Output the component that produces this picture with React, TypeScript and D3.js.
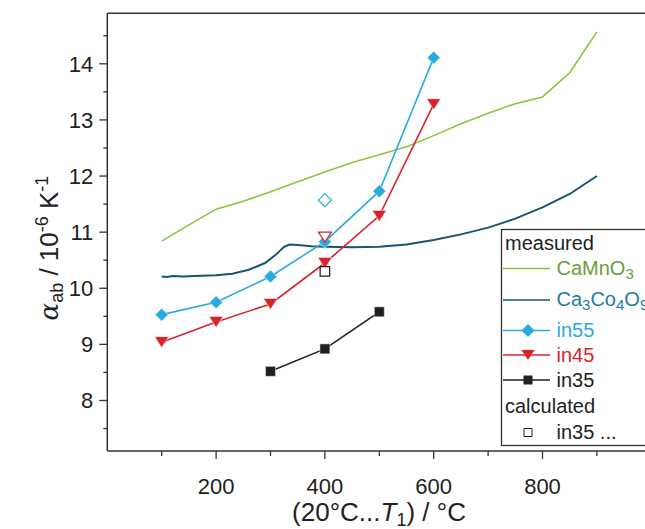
import React from "react";
import * as d3 from "d3";

const W = 645;
const H = 529;

// CaMnO3 (measured, line only)
const caMnX = [100, 150, 200, 250, 300, 350, 400, 450, 500, 550, 600, 650, 700, 750, 800, 850, 900];
const caMnY = [10.84, 11.13, 11.41, 11.55, 11.72, 11.9, 12.07, 12.24, 12.38, 12.52, 12.72, 12.93, 13.12, 13.29, 13.41, 13.84, 14.57];

// Ca3Co4O9 (measured, line only)
const caCoX = [100, 110, 120, 140, 160, 200, 230, 260, 290, 310, 325, 335, 350, 375, 400, 450, 500, 550, 600, 650, 700, 750, 800, 850, 900];
const caCoY = [10.21, 10.2, 10.22, 10.21, 10.22, 10.23, 10.26, 10.33, 10.45, 10.6, 10.74, 10.78, 10.77, 10.75, 10.74, 10.73, 10.74, 10.78, 10.86, 10.96, 11.08, 11.24, 11.44, 11.68, 12.0];

// in55, in45, in35 (measured, line + symbol)
const in55X = [100, 200, 300, 400, 500, 600];
const in55Y = [9.53, 9.75, 10.21, 10.83, 11.73, 14.11];
const in45X = [100, 200, 300, 400, 500, 600];
const in45Y = [9.04, 9.4, 9.72, 10.45, 11.29, 13.28];
const in35X = [300, 400, 500];
const in35Y = [8.52, 8.92, 9.58];

// calculated (open symbols at 400 °C)
const calcX = [400];
const calcIn55Y = [11.57];
const calcIn45Y = [10.91];
const calcIn35Y = [10.3];

const xMajorTicks = [200, 400, 600, 800];
const xMinorTicks = [100, 300, 500, 700, 900];
const yMajorTicks = [8, 9, 10, 11, 12, 13, 14];
const yMinorTicks = [7.5, 8.5, 9.5, 10.5, 11.5, 12.5, 13.5, 14.5];

const C_GREEN = "#8cc43f";
const C_TEAL = "#17566f";
const C_BLUE = "#29abe2";
const C_RED = "#d7242c";
const C_BLACK = "#231f20";
const C_AXIS = "#333333";
const FONT = "'Liberation Sans', Arial, sans-serif";

const x = d3.scaleLinear().domain([0, 1000]).range([107.3, 651.3]);
const y = d3.scaleLinear().domain([7.1, 14.9]).range([451, 13.3]);

const line = d3
  .line<[number, number]>()
  .x((d) => x(d[0]))
  .y((d) => y(d[1]));

const zip = (xs: number[], ys: number[]): [number, number][] => xs.map((v, i) => [v, ys[i]]);

const diamond = (cx: number, cy: number, r: number) =>
  `M${cx},${cy - r}L${cx + r},${cy}L${cx},${cy + r}L${cx - r},${cy}Z`;
const triDown = (cx: number, cy: number, w: number, h: number) =>
  `M${cx - w / 2},${cy - h / 2}L${cx + w / 2},${cy - h / 2}L${cx},${cy + h / 2}Z`;
const square = (cx: number, cy: number, s: number) =>
  `M${cx - s / 2},${cy - s / 2}h${s}v${s}h${-s}Z`;

export default function App() {
  const legendRows = [
    { label: "CaMnO3", color: C_GREEN, text: "#6a9e3a", ly: 268.5, by: 274.5, marker: null },
    { label: "Ca3Co4O9", color: C_TEAL, text: "#1f7ba0", ly: 300, by: 306, marker: null },
    { label: "in55", color: C_BLUE, text: C_BLUE, ly: 330.5, by: 337, marker: "d" },
    { label: "in45", color: C_RED, text: C_RED, ly: 355, by: 362, marker: "t" },
    { label: "in35", color: C_BLACK, text: C_BLACK, ly: 380, by: 387, marker: "s" },
  ];

  const renderLabel = (label: string) => {
    if (label === "CaMnO3")
      return (
        <>
          CaMnO<tspan baselineShift="-25%" fontSize={15}>3</tspan>
        </>
      );
    if (label === "Ca3Co4O9")
      return (
        <>
          Ca<tspan baselineShift="-25%" fontSize={15}>3</tspan>Co
          <tspan baselineShift="-25%" fontSize={15}>4</tspan>O
          <tspan baselineShift="-25%" fontSize={15}>9</tspan>
        </>
      );
    return label;
  };

  return (
    <svg
      width={W}
      height={H}
      style={{ position: "absolute", left: 0, top: 0, background: "#fff" }}
      fontFamily={FONT}
    >
      <rect x={0} y={0} width={W} height={H} fill="#fff" />

      {/* series lines */}
      <path d={line(zip(caMnX, caMnY)) || ""} fill="none" stroke={C_GREEN} strokeWidth={1.6} />
      <path d={line(zip(caCoX, caCoY)) || ""} fill="none" stroke={C_TEAL} strokeWidth={2} />
      <path d={line(zip(in55X, in55Y)) || ""} fill="none" stroke={C_BLUE} strokeWidth={1.6} />
      <path d={line(zip(in45X, in45Y)) || ""} fill="none" stroke={C_RED} strokeWidth={1.6} />
      <path d={line(zip(in35X, in35Y)) || ""} fill="none" stroke={C_BLACK} strokeWidth={1.6} />

      {/* markers */}
      {in55X.map((v, i) => (
        <path key={"d" + i} d={diamond(x(v), y(in55Y[i]), 6.5)} fill={C_BLUE} stroke="#fff" strokeWidth={0.5} />
      ))}
      {in45X.map((v, i) => (
        <path key={"t" + i} d={triDown(x(v), y(in45Y[i]), 14, 11)} fill={C_RED} stroke="#fff" strokeWidth={0.5} />
      ))}
      {in35X.map((v, i) => (
        <path key={"s" + i} d={square(x(v), y(in35Y[i]), 10)} fill={C_BLACK} stroke="#fff" strokeWidth={0.5} />
      ))}
      {calcX.map((v, i) => (
        <g key={"c" + i}>
          <path d={diamond(x(v), y(calcIn55Y[i]), 6.5)} fill="#fff" stroke={C_BLUE} strokeWidth={1.2} />
          <path d={triDown(x(v), y(calcIn45Y[i]), 13, 10)} fill="#fff" stroke={C_RED} strokeWidth={1.2} />
          <path d={square(x(v), y(calcIn35Y[i]), 9.5)} fill="#fff" stroke={C_BLACK} strokeWidth={1.2} />
        </g>
      ))}

      {/* frame */}
      <line x1={x(0)} x2={W} y1={y(14.9)} y2={y(14.9)} stroke={C_AXIS} strokeWidth={1.5} />
      <line x1={x(0)} x2={x(0)} y1={y(14.9)} y2={y(7.1)} stroke={C_AXIS} strokeWidth={1.5} />
      <line x1={x(0)} x2={W} y1={y(7.1)} y2={y(7.1)} stroke={C_AXIS} strokeWidth={1.5} />

      {/* y ticks */}
      {yMajorTicks.map((t) => (
        <g key={"ym" + t}>
          <line x1={x(0) - 8} x2={x(0)} y1={y(t)} y2={y(t)} stroke={C_AXIS} strokeWidth={1.3} />
          <text x={x(0) - 14} y={y(t)} dy="0.35em" textAnchor="end" fontSize={22} fill="#222">
            {t}
          </text>
        </g>
      ))}
      {yMinorTicks.map((t) => (
        <line key={"yn" + t} x1={x(0) - 4} x2={x(0)} y1={y(t)} y2={y(t)} stroke={C_AXIS} strokeWidth={1.3} />
      ))}

      {/* x ticks */}
      {xMajorTicks.map((t) => (
        <g key={"xm" + t}>
          <line x1={x(t)} x2={x(t)} y1={y(7.1)} y2={y(7.1) + 8} stroke={C_AXIS} strokeWidth={1.3} />
          <text x={x(t)} y={494} textAnchor="middle" fontSize={22} fill="#222">
            {t}
          </text>
        </g>
      ))}
      {xMinorTicks.map((t) => (
        <line key={"xn" + t} x1={x(t)} x2={x(t)} y1={y(7.1)} y2={y(7.1) + 5} stroke={C_AXIS} strokeWidth={1.3} />
      ))}

      {/* axis titles */}
      <text x={379} y={521} textAnchor="middle" fontSize={26} fill="#222">
        (20°C...<tspan fontStyle="italic">T</tspan>
        <tspan baselineShift="-25%" fontSize={18}>1</tspan>) / °C
      </text>
      <text
        transform={`translate(58, 248) rotate(-90)`}
        textAnchor="middle"
        fontSize={26}
        fill="#222"
      >
        <tspan fontStyle="italic" fontFamily="'DejaVu Serif', serif">α</tspan>
        <tspan baselineShift="-25%" fontSize={18}>ab</tspan>
        <tspan> / 10</tspan>
        <tspan baselineShift="super" fontSize={18}>-6</tspan>
        <tspan> K</tspan>
        <tspan baselineShift="super" fontSize={18}>-1</tspan>
      </text>

      {/* legend */}
      <rect x={501.5} y={229.5} width={200} height={216} fill="#fff" stroke={C_AXIS} strokeWidth={1.3} />
      <text x={505} y={250} fontSize={20} fill="#222">measured</text>
      {legendRows.map((r) => (
        <g key={r.label}>
          <line x1={503} x2={550} y1={r.ly} y2={r.ly} stroke={r.color} strokeWidth={1.6} />
          {r.marker === "d" && <path d={diamond(528, r.ly, 6.5)} fill={r.color} />}
          {r.marker === "t" && <path d={triDown(528, r.ly, 13, 10)} fill={r.color} />}
          {r.marker === "s" && <path d={square(528, r.ly, 9)} fill={r.color} />}
          <text x={556.5} y={r.by} fontSize={20} fill={r.text}>
            {renderLabel(r.label)}
          </text>
        </g>
      ))}
      <text x={505} y={413} fontSize={20} fill="#222">calculated</text>
      <path d={square(528, 432.5, 8)} fill="#fff" stroke={C_BLACK} strokeWidth={1} />
      <text x={556.5} y={438.5} fontSize={20} fill="#222">in35 ...</text>
    </svg>
  );
}
